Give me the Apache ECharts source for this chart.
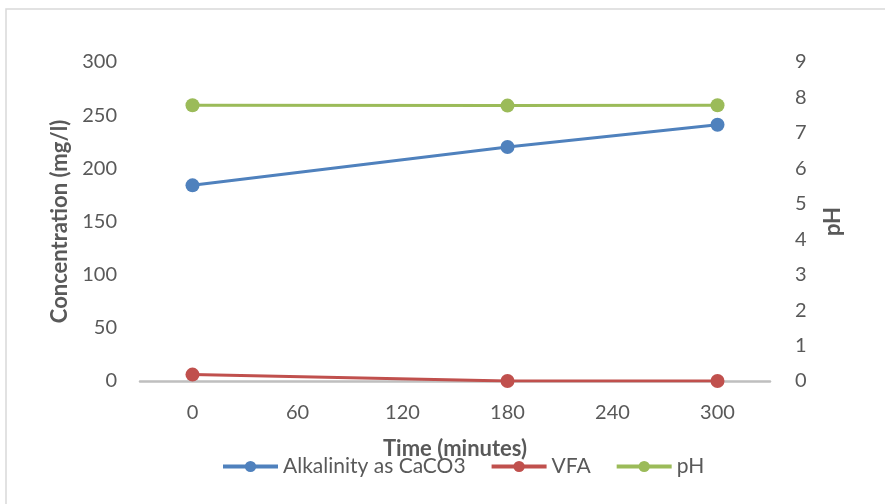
<!DOCTYPE html>
<html><head><meta charset="utf-8">
<script src="https://cdn.jsdelivr.net/npm/echarts@6/dist/echarts.min.js"></script>
<style>html,body{margin:0;padding:0;background:#fff}#c{width:885px;height:504px}</style>
</head><body><div id="c"></div>
<script>
const timeMinutes = [0, 180, 300];
const alkalinity = [184, 220, 241];
const vfa = [6, 0, 0];
const pH = [7.78, 7.77, 7.78];
const xTicks = [0, 60, 120, 180, 240, 300];
const seriesNames = ['Alkalinity as CaCO3', 'VFA', 'pH'];
const colors = ['#4F81BD', '#C0504D', '#9BBB59'];

const font = 'Lato';
const txt = '#595959';
const pair = (xs, ys) => xs.map((x, i) => [x, ys[i]]);
const chart = echarts.init(document.getElementById('c'));
const mk = (name, data, color, yIdx) => ({
  name, type: 'line', yAxisIndex: yIdx, data,
  symbol: 'circle', symbolSize: 14, color,
  lineStyle: { width: 3, color }, itemStyle: { color },
  emphasis: { disabled: true }
});
chart.setOption({
  animation: false,
  textStyle: { fontFamily: font },
  graphic: [{ type: 'rect', shape: { x: 6, y: 9, width: 890, height: 510 }, style: { fill: 'none', stroke: '#D9D9D9', lineWidth: 1.5 } }],
  grid: { left: 140, right: 115, top: 62, bottom: 123 },
  legend: {
    bottom: 22, left: 216, itemGap: 24, itemWidth: 55, itemHeight: 14,
    lineStyle: { width: 4 },
    textStyle: { fontFamily: font, fontSize: 21, color: txt },
    data: seriesNames
  },
  xAxis: {
    type: 'value', min: -30, max: 330,
    name: 'Time (minutes)', nameLocation: 'middle', nameGap: 57,
    nameTextStyle: { fontFamily: font, fontSize: 22, fontWeight: 'bold', color: txt },
    axisLine: { show: true, onZero: false, lineStyle: { color: '#BFBFBF', width: 2.5 } },
    axisTick: { show: false },
    splitLine: { show: false },
    axisLabel: { customValues: xTicks, fontSize: 20, color: txt, margin: 22 }
  },
  yAxis: [{
    type: 'value', min: 0, max: 300, interval: 50,
    name: 'Concentration (mg/l)', nameLocation: 'middle', nameGap: 65, nameRotate: 90,
    nameTextStyle: { fontFamily: font, fontSize: 22, fontWeight: 'bold', color: txt },
    axisLine: { show: false }, axisTick: { show: false }, splitLine: { show: false },
    axisLabel: { fontSize: 20, color: txt, margin: 23 }
  }, {
    type: 'value', min: 0, max: 9, interval: 1, position: 'right',
    name: 'pH', nameLocation: 'middle', nameGap: 52, nameRotate: 90,
    nameTextStyle: { fontFamily: font, fontSize: 22, fontWeight: 'bold', color: txt },
    axisLine: { show: false }, axisTick: { show: false }, splitLine: { show: false },
    axisLabel: { fontSize: 20, color: txt, margin: 25 }
  }],
  series: [
    mk(seriesNames[0], pair(timeMinutes, alkalinity), colors[0], 0),
    mk(seriesNames[1], pair(timeMinutes, vfa), colors[1], 0),
    mk(seriesNames[2], pair(timeMinutes, pH), colors[2], 1)
  ]
});
</script></body></html>
